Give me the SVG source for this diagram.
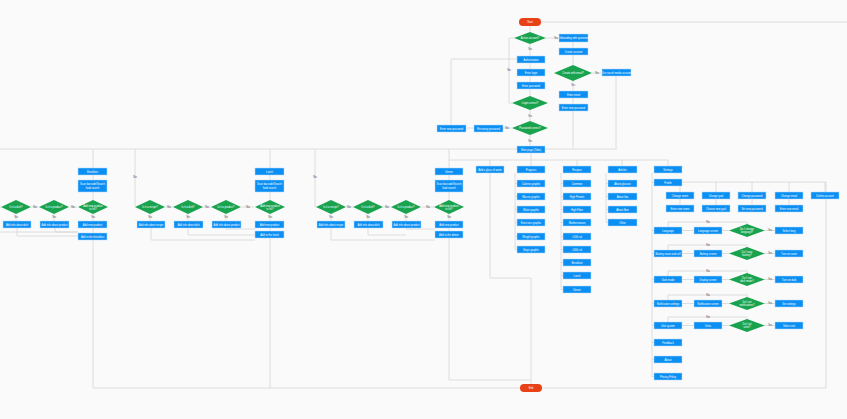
<svg xmlns="http://www.w3.org/2000/svg" width="847" height="419" viewBox="0 0 847 419">
<style>
.b{fill:#0b8ff2;stroke:#b9dcfb;stroke-width:.5}
.d{fill:#19a34f}
.t{font-family:"Liberation Sans",Arial,sans-serif;font-size:2.6px;fill:#fff;text-anchor:middle}
.l{font-family:"Liberation Sans",Arial,sans-serif;font-size:2.6px;fill:#444;text-anchor:middle}
.c{fill:none;stroke:#d6d6d6;stroke-width:.8}
.p{fill:#e84118}
</style>
<rect width="847" height="419" fill="#fafafa"/>
<g id="connectors">
<path class="c" d="M541 22H847M530 26V32M546 38H559M530 44V56M573 42V48M573 55V65M592 73H602M573 81V91M573 98V104M573 111V148M616 76V148M0 149H617"/>
<path class="c" d="M530 63V69M530 76V82M530 89V96M514 38H509V103H512M530 110V121M530 135V146M512 128H503M474 128H466M451 125V59H517M531 153V160M449 160H668M490 160V166M531 160V166M577 160V166M622 160V166M668 160V166"/>
<path class="c" d="M490 173V278H531V384M515 173V249.5H517M515 183.5H517M515 196.5H517M515 209.5H517M515 222.5H517M515 236.5H517M561 173V289.5H563M561 183.5H563M561 196.5H563M561 209.5H563M561 222.5H563M561 236.5H563M561 249.5H563M561 262.5H563M561 275.5H563M606 173V222.5H608M606 183.5H608M606 196.5H608M606 209.5H608"/>
<path class="c" d="M652 173V376.5H654M652 182.5H654M652 230.5H654M652 253.5H654M652 279.5H654M652 303.5H654M652 325.5H654M652 342.5H654M652 359.5H654M682 182H826V388H93M680 192V192M680 182V192M716 182V192M752 182V192M789 182V192M825 182V192M680 199V205M716 199V205M752 199V205M789 199V205"/>
<path class="c" d="M682 230.5H694M722 230.5H729M765 230.5H775M668 227V222H747V224M682 253.5H694M722 253.5H729M765 253.5H775M668 250V245H747V247M682 279.5H694M722 279.5H729M765 279.5H775M668 276V271H747V273M682 303.5H694M722 303.5H729M765 303.5H775M668 300V295H747V297M682 325.5H694M722 325.5H729M765 325.5H775M668 322V317H747V319"/>
<path class="c" d="M315 149V207H316M346 207H353M383 207H391M421 207H434M331 214V221M368 214V221M406 214V221M449 149V168M449 175V180M449 192V200M449 214V221M449 228V231M449 238V380H531M331 228V240H435M368 228V235H406M406 228V229H435"/>
<path class="c" d="M135 149V207M165 207H173M203 207H211M241 207H254M150 214V221M188 214V221M226 214V221M270 149V168M270 175V180M270 192V200M270 214V221M270 228V231M270 238V388M151 228V240H255M188 228V235H255M226 228V229H255"/>
<path class="c" d="M0 207H1M31 207H39M69 207H77M16 214V221M54 214V221M93 149V168M93 175V180M93 192V200M93 214V221M93 228V233M93 240V388M17 228V236H78M55 228V232H78M0 232H78"/>
<g class="l"><text x="556" y="39">Yes</text><text x="530" y="50">Yes</text><text x="597" y="74">No</text><text x="573" y="86">Yes</text><text x="509" y="71">No</text><text x="530" y="117">Yes</text><text x="507" y="129">No</text><text x="530" y="142">Yes</text>
<text x="315" y="178">No</text><text x="349" y="208">No</text><text x="387" y="208">No</text><text x="428" y="208">No</text><text x="331" y="218">Yes</text><text x="368" y="218">Yes</text><text x="406" y="218">Yes</text><text x="449" y="218">Yes</text>
<text x="135" y="178">No</text><text x="169" y="208">No</text><text x="207" y="208">No</text><text x="248" y="208">No</text><text x="150" y="218">Yes</text><text x="188" y="218">Yes</text><text x="226" y="218">Yes</text><text x="270" y="218">Yes</text>
<text x="35" y="208">No</text><text x="73" y="208">No</text><text x="16" y="218">Yes</text><text x="54" y="218">Yes</text><text x="93" y="218">Yes</text>
<text x="708" y="223">No</text><text x="708" y="246">No</text><text x="708" y="272">No</text><text x="708" y="296">No</text><text x="708" y="318">No</text>
<text x="770" y="231">Yes</text><text x="770" y="254">Yes</text><text x="770" y="280">Yes</text><text x="770" y="304">Yes</text><text x="770" y="326">Yes</text></g>
</g>
<g id="start"><rect class="p" x="519" y="18" width="22" height="8" rx="4"/><text class="t" x="530" y="23">Start</text></g>
<g id="end"><rect class="p" x="520" y="384" width="22" height="8" rx="4"/><text class="t" x="531" y="389">End</text></g>
<g id="d-active"><polygon class="d" points="530,32 546,38 530,44 514,38"/><text class="t" x="530" y="39">Active account?</text></g>
<g id="onboard"><rect class="b" x="559" y="34" width="29" height="8"/><text class="t" x="573.5" y="39">Onboarding with questions</text></g>
<g id="create"><rect class="b" x="559" y="48" width="29" height="7"/><text class="t" x="573.5" y="52.5">Create account</text></g>
<g id="d-email"><polygon class="d" points="573,65 592,73 573,81 554,73"/><text class="t" x="573" y="74">Create with email?</text></g>
<g id="social"><rect class="b" x="602" y="69" width="29" height="7"/><text class="t" x="616.5" y="73.5">Use social media account</text></g>
<g id="email"><rect class="b" x="559" y="91" width="29" height="7"/><text class="t" x="573.5" y="95.5">Enter email</text></g>
<g id="newpass1"><rect class="b" x="559" y="104" width="29" height="7"/><text class="t" x="573.5" y="108.5">Enter new password</text></g>
<g id="auth"><rect class="b" x="517" y="56" width="28" height="7"/><text class="t" x="531" y="60.5">Authorization</text></g>
<g id="login"><rect class="b" x="517" y="69" width="28" height="7"/><text class="t" x="531" y="73.5">Enter login</text></g>
<g id="pass"><rect class="b" x="517" y="82" width="28" height="7"/><text class="t" x="531" y="86.5">Enter password</text></g>
<g id="d-login"><polygon class="d" points="530,96 548,103 530,110 512,103"/><text class="t" x="530" y="104">Login correct?</text></g>
<g id="d-pass"><polygon class="d" points="530,121 548,128 530,135 512,128"/><text class="t" x="530" y="129">Password correct?</text></g>
<g id="recovery"><rect class="b" x="474" y="125" width="29" height="7"/><text class="t" x="488.5" y="129.5">Recovery password</text></g>
<g id="newpass2"><rect class="b" x="437" y="125" width="29" height="7"/><text class="t" x="451.5" y="129.5">Enter new password</text></g>
<g id="main"><rect class="b" x="517" y="146" width="28" height="7"/><text class="t" x="531" y="150.5">Main page (Tabs)</text></g>
<g id="water"><rect class="b" x="476" y="166" width="28" height="7"/><text class="t" x="490" y="170.5">Add a glass of water</text></g>
<g id="progress"><rect class="b" x="517" y="166" width="28" height="7"/><text class="t" x="531" y="170.5">Progress</text>
<rect class="b" x="517" y="180" width="28" height="7"/><text class="t" x="531" y="184.5">Calories graphic</text>
<rect class="b" x="517" y="193" width="28" height="7"/><text class="t" x="531" y="197.5">Macros graphic</text>
<rect class="b" x="517" y="206" width="28" height="7"/><text class="t" x="531" y="210.5">Water graphic</text>
<rect class="b" x="517" y="219" width="28" height="7"/><text class="t" x="531" y="223.5">Exercises graphic</text>
<rect class="b" x="517" y="233" width="28" height="7"/><text class="t" x="531" y="237.5">Weight graphic</text>
<rect class="b" x="517" y="246" width="28" height="7"/><text class="t" x="531" y="250.5">Steps graphic</text></g>
<g id="recipes"><rect class="b" x="563" y="166" width="28" height="7"/><text class="t" x="577" y="170.5">Recipes</text>
<rect class="b" x="563" y="180" width="28" height="7"/><text class="t" x="577" y="184.5">Common</text>
<rect class="b" x="563" y="193" width="28" height="7"/><text class="t" x="577" y="197.5">High Protein</text>
<rect class="b" x="563" y="206" width="28" height="7"/><text class="t" x="577" y="210.5">High Fiber</text>
<rect class="b" x="563" y="219" width="28" height="7"/><text class="t" x="577" y="223.5">Mediterranean</text>
<rect class="b" x="563" y="233" width="28" height="7"/><text class="t" x="577" y="237.5">&lt;100 cal</text>
<rect class="b" x="563" y="246" width="28" height="7"/><text class="t" x="577" y="250.5">&lt;300 cal</text>
<rect class="b" x="563" y="259" width="28" height="7"/><text class="t" x="577" y="263.5">Breakfast</text>
<rect class="b" x="563" y="272" width="28" height="7"/><text class="t" x="577" y="276.5">Lunch</text>
<rect class="b" x="563" y="286" width="28" height="7"/><text class="t" x="577" y="290.5">Dinner</text></g>
<g id="articles"><rect class="b" x="608" y="166" width="29" height="7"/><text class="t" x="622.5" y="170.5">Articles</text>
<rect class="b" x="608" y="180" width="29" height="7"/><text class="t" x="622.5" y="184.5">About glucose</text>
<rect class="b" x="608" y="193" width="29" height="7"/><text class="t" x="622.5" y="197.5">About fats</text>
<rect class="b" x="608" y="206" width="29" height="7"/><text class="t" x="622.5" y="210.5">About fiber</text>
<rect class="b" x="608" y="219" width="29" height="7"/><text class="t" x="622.5" y="223.5">Other</text></g>
<g id="settings"><rect class="b" x="654" y="166" width="28" height="7"/><text class="t" x="668" y="170.5">Settings</text>
<rect class="b" x="654" y="179" width="28" height="7"/><text class="t" x="668" y="183.5">Profile</text>
<rect class="b" x="666" y="192" width="28" height="7"/><text class="t" x="680" y="196.5">Change name</text>
<rect class="b" x="666" y="205" width="28" height="7"/><text class="t" x="680" y="209.5">Enter new name</text>
<rect class="b" x="702" y="192" width="28" height="7"/><text class="t" x="716" y="196.5">Change goal</text>
<rect class="b" x="702" y="205" width="28" height="7"/><text class="t" x="716" y="209.5">Choose new goal</text>
<rect class="b" x="738" y="192" width="28" height="7"/><text class="t" x="752" y="196.5">Change password</text>
<rect class="b" x="738" y="205" width="28" height="7"/><text class="t" x="752" y="209.5">Set new password</text>
<rect class="b" x="775" y="192" width="28" height="7"/><text class="t" x="789" y="196.5">Change email</text>
<rect class="b" x="775" y="205" width="28" height="7"/><text class="t" x="789" y="209.5">Enter new email</text>
<rect class="b" x="811" y="192" width="28" height="7"/><text class="t" x="825" y="196.5">Delete account</text></g>
<g id="lang"><rect class="b" x="654" y="227" width="28" height="7"/><text class="t" x="668" y="231.5">Language</text>
<rect class="b" x="694" y="227" width="28" height="7"/><text class="t" x="708" y="231.5">Language screen</text>
<polygon class="d" points="747,224 765,230.5 747,237 729,230.5"/><text class="t" x="747" y="230">Do I change</text><text class="t" x="747" y="233">language?</text>
<rect class="b" x="775" y="227" width="28" height="7"/><text class="t" x="789" y="231.5">Select lang</text></g>
<g id="battery"><rect class="b" x="654" y="250" width="28" height="7"/><text class="t" x="668" y="254.5">Battery saver and cell</text>
<rect class="b" x="694" y="250" width="28" height="7"/><text class="t" x="708" y="254.5">Battery screen</text>
<polygon class="d" points="747,247 765,253.5 747,260 729,253.5"/><text class="t" x="747" y="253">Do I save</text><text class="t" x="747" y="256">battery?</text>
<rect class="b" x="775" y="250" width="28" height="7"/><text class="t" x="789" y="254.5">Turn on saver</text></g>
<g id="dark"><rect class="b" x="654" y="276" width="28" height="7"/><text class="t" x="668" y="280.5">Dark mode</text>
<rect class="b" x="694" y="276" width="28" height="7"/><text class="t" x="708" y="280.5">Display screen</text>
<polygon class="d" points="747,273 765,279.5 747,286 729,279.5"/><text class="t" x="747" y="279">Do I turn</text><text class="t" x="747" y="282">dark mode?</text>
<rect class="b" x="775" y="276" width="28" height="7"/><text class="t" x="789" y="280.5">Turn on dark</text></g>
<g id="notif"><rect class="b" x="654" y="300" width="28" height="7"/><text class="t" x="668" y="304.5">Notification settings</text>
<rect class="b" x="694" y="300" width="28" height="7"/><text class="t" x="708" y="304.5">Notification screen</text>
<polygon class="d" points="747,297 765,303.5 747,310 729,303.5"/><text class="t" x="747" y="303">Do I set</text><text class="t" x="747" y="306">notifications?</text>
<rect class="b" x="775" y="300" width="28" height="7"/><text class="t" x="789" y="304.5">Set settings</text></g>
<g id="units"><rect class="b" x="654" y="322" width="28" height="7"/><text class="t" x="668" y="326.5">Unit system</text>
<rect class="b" x="694" y="322" width="28" height="7"/><text class="t" x="708" y="326.5">Units</text>
<polygon class="d" points="747,319 765,325.5 747,332 729,325.5"/><text class="t" x="747" y="325">Do I set</text><text class="t" x="747" y="328">units?</text>
<rect class="b" x="775" y="322" width="28" height="7"/><text class="t" x="789" y="326.5">Select unit</text></g>
<g id="feedback"><rect class="b" x="654" y="339" width="28" height="7"/><text class="t" x="668" y="343.5">Feedback</text></g>
<g id="about"><rect class="b" x="654" y="356" width="28" height="7"/><text class="t" x="668" y="360.5">About</text></g>
<g id="privacy"><rect class="b" x="654" y="373" width="28" height="7"/><text class="t" x="668" y="377.5">Privacy Policy</text></g>
<g id="dinner"><rect class="b" x="435" y="168" width="28" height="7"/><text class="t" x="449" y="172.5">Dinner</text>
<rect class="b" x="435" y="180" width="28" height="12"/><text class="t" x="449" y="185">Scan barcode/Search</text><text class="t" x="449" y="188.5">food search</text>
<polygon class="d" points="331,200 346,207 331,214 316,207"/><text class="t" x="331" y="208">Is it a recipe?</text>
<polygon class="d" points="368,200 383,207 368,214 353,207"/><text class="t" x="368" y="208">Is it a dish?</text>
<polygon class="d" points="406,200 421,207 406,214 391,207"/><text class="t" x="406" y="208">Is it a product?</text>
<polygon class="d" points="449,200 464,207 449,214 434,207"/><text class="t" x="449" y="206.5">Add new product</text><text class="t" x="449" y="209.5">to list?</text>
<rect class="b" x="317" y="221" width="28" height="7"/><text class="t" x="331" y="225.5">Add info about recipe</text>
<rect class="b" x="354" y="221" width="29" height="7"/><text class="t" x="368.5" y="225.5">Add info about dish</text>
<rect class="b" x="392" y="221" width="29" height="7"/><text class="t" x="406.5" y="225.5">Add info about product</text>
<rect class="b" x="435" y="221" width="28" height="7"/><text class="t" x="449" y="225.5">Add new product</text>
<rect class="b" x="435" y="231" width="28" height="7"/><text class="t" x="449" y="235.5">Add to the dinner</text></g>
<g id="lunch"><rect class="b" x="255" y="168" width="29" height="7"/><text class="t" x="269.5" y="172.5">Lunch</text>
<rect class="b" x="255" y="180" width="29" height="12"/><text class="t" x="269.5" y="185">Scan barcode/Search</text><text class="t" x="269.5" y="188.5">food search</text>
<polygon class="d" points="150,200 165,207 150,214 135,207"/><text class="t" x="150" y="208">Is it a recipe?</text>
<polygon class="d" points="188,200 203,207 188,214 173,207"/><text class="t" x="188" y="208">Is it a dish?</text>
<polygon class="d" points="226,200 241,207 226,214 211,207"/><text class="t" x="226" y="208">Is it a product?</text>
<polygon class="d" points="270,200 285,207 270,214 255,207"/><text class="t" x="270" y="206.5">Add new product</text><text class="t" x="270" y="209.5">to list?</text>
<rect class="b" x="137" y="221" width="28" height="7"/><text class="t" x="151" y="225.5">Add info about recipe</text>
<rect class="b" x="174" y="221" width="29" height="7"/><text class="t" x="188.5" y="225.5">Add info about dish</text>
<rect class="b" x="212" y="221" width="29" height="7"/><text class="t" x="226.5" y="225.5">Add info about product</text>
<rect class="b" x="255" y="221" width="29" height="7"/><text class="t" x="269.5" y="225.5">Add new product</text>
<rect class="b" x="255" y="231" width="29" height="7"/><text class="t" x="269.5" y="235.5">Add to the lunch</text></g>
<g id="breakfast"><rect class="b" x="78" y="168" width="29" height="7"/><text class="t" x="92.5" y="172.5">Breakfast</text>
<rect class="b" x="78" y="180" width="29" height="12"/><text class="t" x="92.5" y="185">Scan barcode/Search</text><text class="t" x="92.5" y="188.5">food search</text>
<polygon class="d" points="16,200 31,207 16,214 1,207"/><text class="t" x="16" y="208">Is it a dish?</text>
<polygon class="d" points="54,200 69,207 54,214 39,207"/><text class="t" x="54" y="208">Is it a product?</text>
<polygon class="d" points="93,200 108,207 93,214 78,207"/><text class="t" x="93" y="206.5">Add new product</text><text class="t" x="93" y="209.5">to list?</text>
<rect class="b" x="3" y="221" width="28" height="7"/><text class="t" x="17" y="225.5">Add info about dish</text>
<rect class="b" x="40" y="221" width="29" height="7"/><text class="t" x="54.5" y="225.5">Add info about product</text>
<rect class="b" x="78" y="221" width="29" height="7"/><text class="t" x="92.5" y="225.5">Add new product</text>
<rect class="b" x="78" y="233" width="29" height="7"/><text class="t" x="92.5" y="237.5">Add to the breakfast</text></g>
</svg>
